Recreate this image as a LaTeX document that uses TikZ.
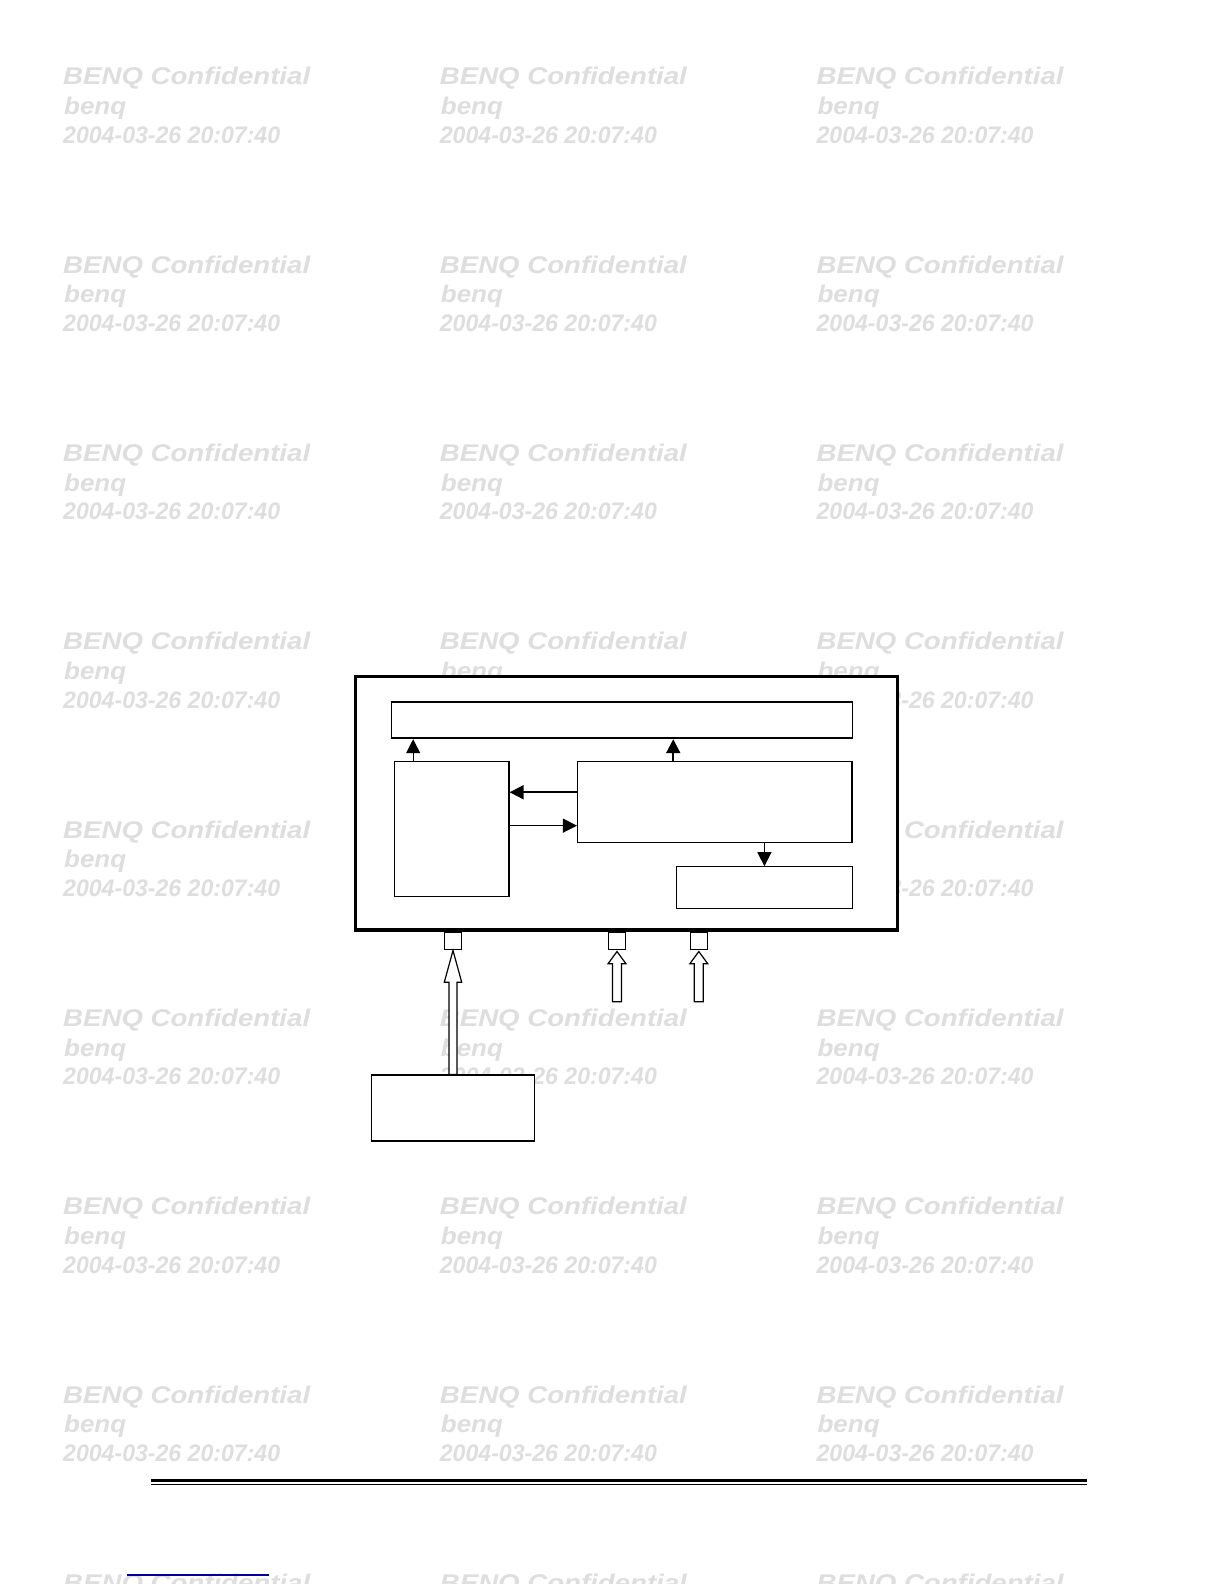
\documentclass[tikz,border=0pt]{standalone}
\usepackage{graphicx}
\usepackage{fontspec}
\setmainfont{Liberation Sans}
\usetikzlibrary{arrows.meta,calc}
\definecolor{wm}{gray}{0.87}
\definecolor{linkblue}{RGB}{0,0,160}
\newcommand{\wmline}[3]{\resizebox{#1pt}{#2pt}{\bfseries\itshape #3}}
\begin{document}
\begin{tikzpicture}[x=1pt,y=-1pt,
  box/.style={draw, fill=white, rectangle, inner sep=0pt},
  wmtext/.style={anchor=base west, inner sep=0pt, text=wm},
  arr/.style={-{Triangle[length=14pt,width=14pt]}, line width=1pt},
  hollow/.style={draw, fill=white, line width=1.2pt, line join=miter}]
\useasboundingbox (0,0) rectangle (1224,1584);
\fill[white] (0,0) rectangle (1224,1584);
% watermark grid
\foreach \c in {0,1,2} {
  \foreach \r in {0,...,7} {
    \node[wmtext] (wa\c\r) at ({63+376.7*\c},{85+188.3*\r}) {\wmline{247}{17.5}{BENQ Confidential}};
    \node[wmtext] (wb\c\r) at ({64+376.7*\c},{114.5+188.3*\r}) {\wmline{62}{17.5}{benq}};
    \node[wmtext] (wc\c\r) at ({63+376.7*\c},{143.3+188.3*\r}) {\wmline{217}{16.7}{2004-03-26 20:07:40}};
  }
  \node[wmtext] (wa\c8) at ({63+376.7*\c},{85+188.3*8}) {\wmline{247}{17.5}{BENQ Confidential}};
}
% outer block
\node[box, line width=3.5pt, minimum width=542pt, minimum height=253.4pt] (outer) at (626.5,803.3) {};
% inner blocks
\node[box, line width=1.8pt, minimum width=461pt, minimum height=36pt] (tb) at (622,720.3) {};
\node[box, line width=1.3pt, minimum width=114.8pt, minimum height=135pt] (lb) at (451.6,829.2) {};
\node[box, line width=1.5pt, minimum width=274.5pt, minimum height=81pt] (mb) at (714.95,802.2) {};
\node[box, line width=1pt, minimum width=175.6pt, minimum height=41.6pt] (br) at (764.4,887.5) {};
% ports
\node[box, line width=1pt, minimum width=17.4pt, minimum height=17pt] (p1) at (453,941) {};
\node[box, line width=1pt, minimum width=17.4pt, minimum height=17pt] (p2) at (617,941) {};
\node[box, line width=1pt, minimum width=17.4pt, minimum height=17pt] (p3) at (698.8,941) {};
% external block
\node[box, line width=1.3pt, minimum width=162.6pt, minimum height=66pt] (bb) at (453,1108) {};
% internal arrows
\coordinate (a1s) at ($(lb.north west)+(19.6,0)$);
\draw[arr] (a1s) -- (a1s |- tb.south);
\coordinate (a2s) at ($(mb.north west)+(96.3,0)$);
\draw[arr, line width=2pt] (a2s) -- (a2s |- tb.south);
\coordinate (a3s) at ($(mb.north west)+(0,31.3)$);
\draw[arr, line width=2pt] (a3s) -- (a3s -| lb.east);
\coordinate (a4s) at ($(lb.north east)+(0,64.6)$);
\draw[arr] (a4s) -- (a4s -| mb.west);
\draw[arr] (br.north |- mb.south) -- (br.north);
% hollow input arrows
\draw[hollow] ($(p1.south)+(0,0.5)$) -- ++(-8.7,31.7) -- ++(4.7,0)
  -- ($(bb.north)+(-4,0)$) -- ($(bb.north)+(4,0)$)
  -- ($(p1.south)+(4,32.2)$) -- ++(4.7,0) -- cycle;
\coordinate (s2) at (617,1001.7);
\coordinate (s3) at (698.8,1001.7);
\draw[hollow] ($(p2.south)+(0,1.5)$) -- ++(-9,12.3) -- ++(4.5,0)
  -- ($(s2)+(-4.5,0)$) -- ($(s2)+(4.5,0)$)
  -- ($(p2.south)+(4.5,13.8)$) -- ++(4.5,0) -- cycle;
\draw[hollow] ($(p3.south)+(0,1.5)$) -- ++(-9,12.3) -- ++(4.5,0)
  -- ($(s3)+(-4.5,0)$) -- ($(s3)+(4.5,0)$)
  -- ($(p3.south)+(4.5,13.8)$) -- ++(4.5,0) -- cycle;
% footer rules
\draw[line width=3.5pt] (151,1480.7) -- (1087,1480.7);
\draw[line width=1pt] (151,1484.5) -- (1087,1484.5);
\draw[linkblue, line width=1.3pt] (126.7,1575) -- (269,1575);
\end{tikzpicture}
\end{document}
